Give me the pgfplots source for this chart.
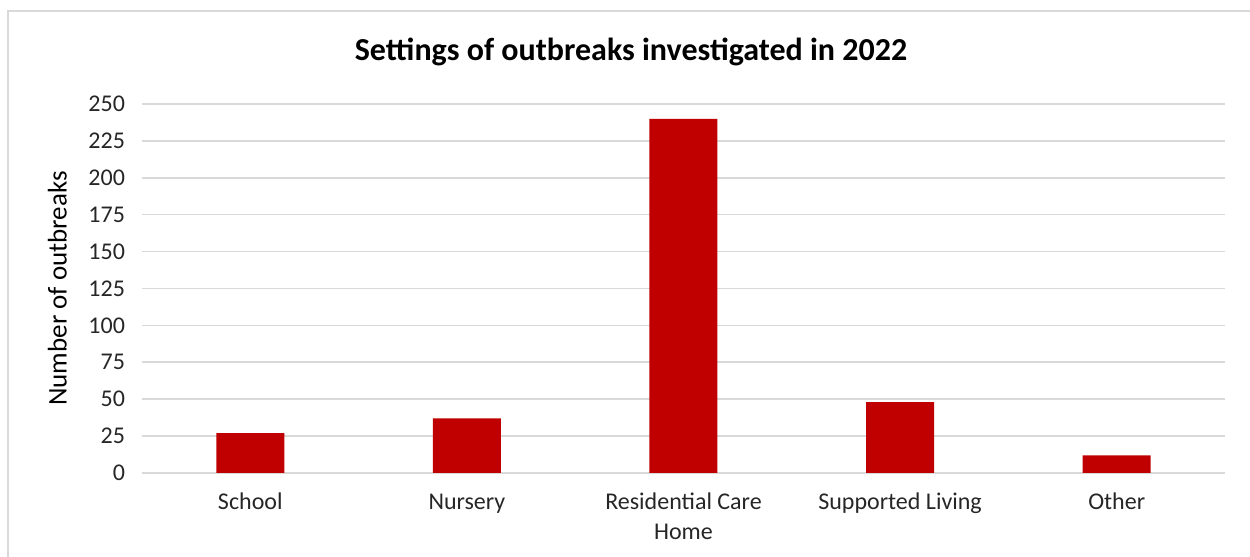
\documentclass[border=0pt]{standalone}
\usepackage{fontspec}
\setmainfont{Carlito}
\usepackage{pgfplots}
\pgfplotsset{compat=1.18}
\definecolor{barred}{HTML}{C00000}
\definecolor{gridgray}{HTML}{D9D9D9}
\definecolor{framegray}{HTML}{D9D9D9}
\definecolor{txt}{HTML}{262626}
\begin{document}
\begin{tikzpicture}
  \useasboundingbox (0,0) rectangle (625pt,278.5pt);
  % chart frame (only top and left edges are visible in the crop)
  \draw[framegray, line width=1.2pt] (4pt,-5pt) -- (4pt,273pt) -- (630pt,273pt);
  \node[font=\fontsize{16}{19}\selectfont\bfseries, text=black] at (315.5pt,252.5pt) {Settings of outbreaks investigated in 2022};
  \begin{axis}[
      at={(71pt,42pt)}, anchor=south west,
      scale only axis,
      width=541.5pt, height=184.5pt,
      xmin=-0.5, xmax=4.5,
      ymin=0, ymax=250,
      ytick={0,25,...,250},
      xtick=data,
      xticklabels={\strut School,\strut Nursery,{\strut Residential Care\\Home},\strut Supported Living,\strut Other},
      xticklabel style={align=center, font=\fontsize{12}{15}\selectfont, text=txt},
      yticklabel style={font=\fontsize{12}{14}\selectfont, text=txt, xshift=-5pt},
      /pgf/number format/assume math mode=true,
      axis line style={draw=none},
      major tick style={draw=none},
      ymajorgrids,
      grid style={gridgray, line width=0.8pt},
      ylabel={Number of outbreaks},
      every axis y label/.style={at={(ticklabel cs:0.5)}, rotate=90, anchor=south,
        yshift=4pt, font=\fontsize{13.5}{16}\selectfont, text=black},
      ybar, bar width=34pt,
      clip=false,
    ]
    \addplot[fill=barred, draw=none] coordinates {
      (0,27) (1,37) (2,240) (3,48) (4,12)
    };
  \end{axis}
\end{tikzpicture}
\end{document}
